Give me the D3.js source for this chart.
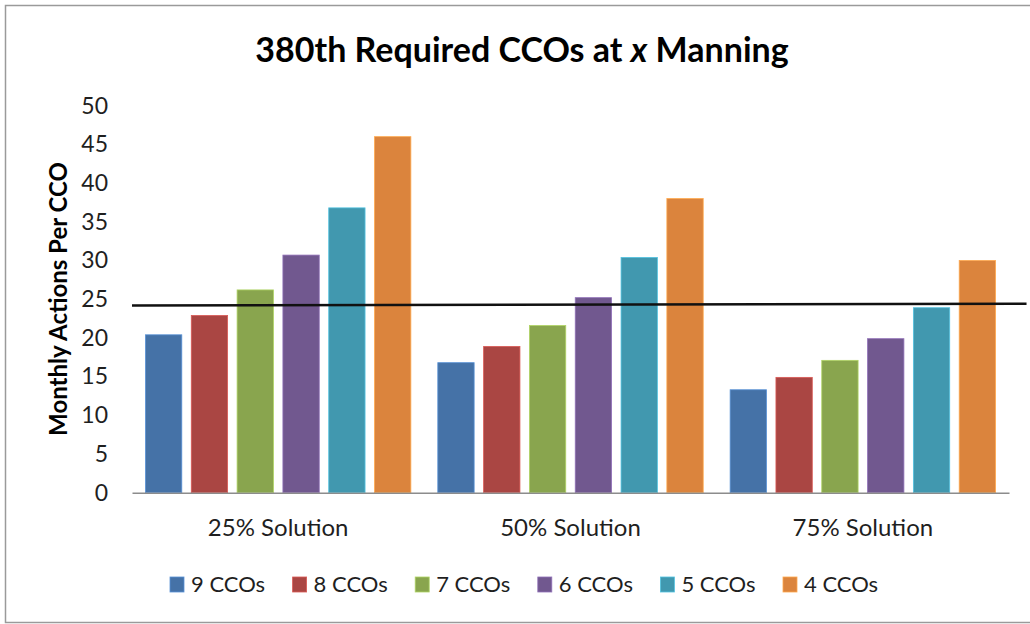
<!DOCTYPE html>
<html>
<head>
<meta charset="utf-8">
<script src="https://cdn.jsdelivr.net/npm/d3@7"></script>
<style>
  html, body { margin: 0; padding: 0; background: #fff; }
  svg { display: block; font-family: "Lato", "Open Sans", sans-serif; }
</style>
</head>
<body>
<div id="chart"></div>
<script>
// data
const categories = ["25% Solution", "50% Solution", "75% Solution"];
const seriesNames = ["9 CCOs", "8 CCOs", "7 CCOs", "6 CCOs", "5 CCOs", "4 CCOs"];
const seriesColors = ["#4572A7", "#AA4643", "#89A54E", "#71588F", "#4198AF", "#DB843D"];
const cco9 = [20.4, 16.8, 13.3];
const cco8 = [22.9, 18.9, 14.9];
const cco7 = [26.2, 21.6, 17.1];
const cco6 = [30.7, 25.2, 19.9];
const cco5 = [36.8, 30.4, 23.9];
const cco4 = [46.0, 38.0, 30.0];
const yTicks = [0, 5, 10, 15, 20, 25, 30, 35, 40, 45, 50];
// hand drawn target line, position in category units
const targetLine = [{ pos: 0, value: 24.2 }, { pos: 3.06, value: 24.4 }];

const seriesValues = [cco9, cco8, cco7, cco6, cco5, cco4];

function createChart() {
    const W = 1030, H = 624;
    const margin = { top: 105.7, right: 21, bottom: 131.3, left: 132 };
    const width = W - margin.left - margin.right;
    const height = H - margin.top - margin.bottom;

    const root = d3.select("#chart")
        .append("svg")
        .attr("width", W)
        .attr("height", H);

    // outer frame
    root.append("rect")
        .attr("x", 5.5).attr("y", 5.5)
        .attr("width", W + 10).attr("height", 617)
        .attr("fill", "none")
        .attr("stroke", "#9a9a9a")
        .attr("stroke-width", 1.5);

    const svg = root.append("g")
        .attr("transform", `translate(${margin.left},${margin.top})`);

    // scales
    const x0 = d3.scaleBand()
        .domain(categories)
        .range([0, width])
        .padding(0);

    const x1 = d3.scaleBand()
        .domain(seriesNames)
        .range([0, x0.bandwidth()])
        .paddingInner(0.207)
        .paddingOuter(0.294);

    const y = d3.scaleLinear()
        .domain([0, 50])
        .range([height, 0]);

    const xLine = d3.scaleLinear()
        .domain([0, categories.length])
        .range([0, width]);

    // y axis labels, no line
    const yAxis = svg.append("g")
        .call(d3.axisLeft(y).tickValues(yTicks).tickSize(0).tickPadding(24));
    yAxis.select(".domain").remove();
    yAxis.selectAll("text")
        .attr("font-size", 23)
        .attr("font-family", "Lato")
        .attr("fill", "#1f1f1f");

    // bars
    const rows = categories.map((c, i) => ({
        category: c,
        values: seriesNames.map((s, j) => ({ series: s, value: seriesValues[j][i], color: seriesColors[j] }))
    }));

    svg.selectAll("g.group")
        .data(rows)
        .join("g")
        .attr("class", "group")
        .attr("transform", d => `translate(${x0(d.category)},0)`)
        .selectAll("rect")
        .data(d => d.values)
        .join("rect")
        .attr("x", d => x1(d.series))
        .attr("y", d => y(d.value))
        .attr("width", x1.bandwidth())
        .attr("height", d => y(0) - y(d.value))
        .attr("fill", d => d.color)
        .attr("stroke", d => d3.color(d.color).brighter(0.7))
        .attr("stroke-width", 0.8);

    // x axis
    const xAxis = svg.append("g")
        .attr("transform", `translate(0,${height})`)
        .call(d3.axisBottom(x0).tickSize(0).tickSizeOuter(0).tickPadding(26));
    xAxis.select(".domain")
        .attr("stroke", "#8c8c8c")
        .attr("stroke-width", 1.6);
    xAxis.selectAll("text")
        .attr("font-size", 24)
        .attr("font-family", "Lato")
        .attr("fill", "#1f1f1f");

    // target line
    svg.append("path")
        .datum(targetLine)
        .attr("fill", "none")
        .attr("stroke", "#111")
        .attr("stroke-width", 2.5)
        .attr("d", d3.line().x(d => xLine(d.pos)).y(d => y(d.value)));

    // title
    const title = root.append("text")
        .attr("x", 522)
        .attr("y", 62)
        .attr("text-anchor", "middle")
        .attr("font-size", 34)
        .attr("font-weight", "bold")
        .attr("fill", "#000");
    title.append("tspan").text("380th Required CCOs at ");
    title.append("tspan").attr("font-style", "italic").text("x");
    title.append("tspan").text(" Manning");

    // y axis title
    root.append("text")
        .attr("transform", `translate(67,${299}) rotate(-90)`)
        .attr("text-anchor", "middle")
        .attr("font-size", 24)
        .attr("font-weight", "bold")
        .attr("fill", "#000")
        .text("Monthly Actions Per CCO");

    // legend
    const legend = root.append("g")
        .attr("transform", "translate(170,577)");
    const item = legend.selectAll("g")
        .data(seriesNames)
        .join("g")
        .attr("transform", (d, i) => `translate(${i * 122.6},0)`);
    item.append("rect")
        .attr("width", 14)
        .attr("height", 15)
        .attr("fill", (d, i) => seriesColors[i])
        .attr("stroke", (d, i) => d3.color(seriesColors[i]).brighter(0.7))
        .attr("stroke-width", 0.8);
    item.append("text")
        .attr("x", 21)
        .attr("y", 15)
        .attr("font-size", 22)
        .attr("fill", "#1f1f1f")
        .text(d => d);
}

createChart();
</script>
</body>
</html>
